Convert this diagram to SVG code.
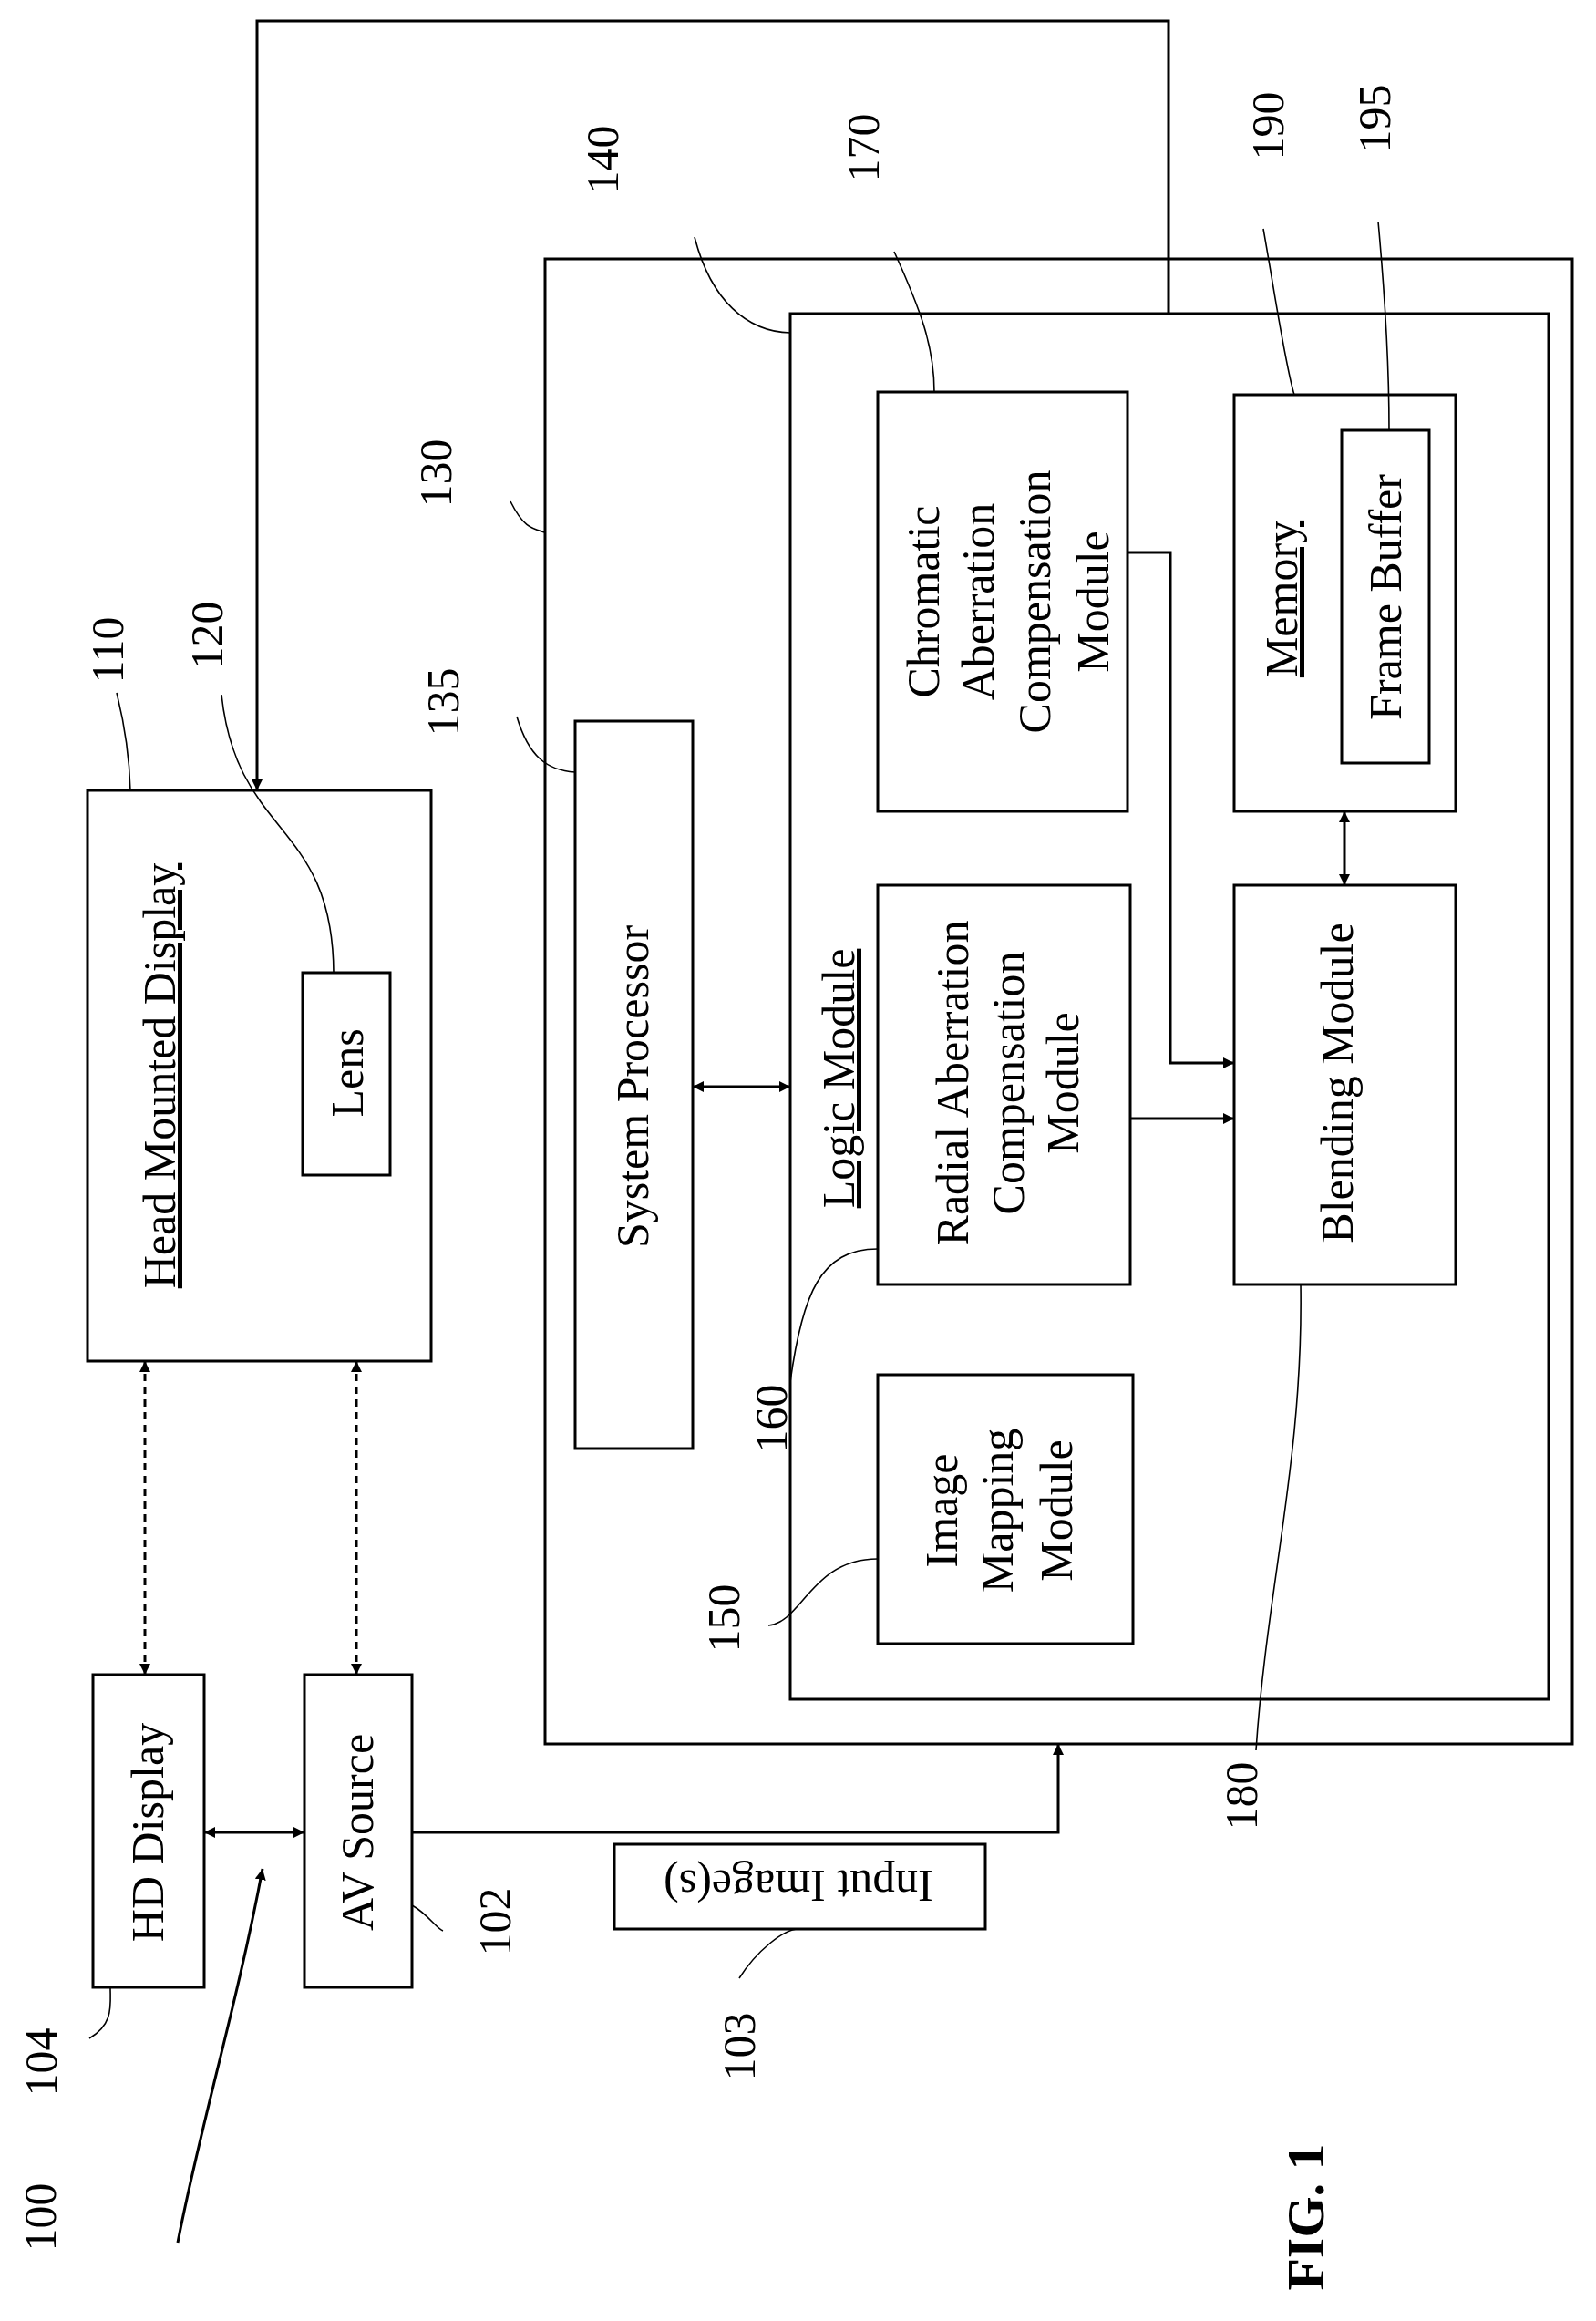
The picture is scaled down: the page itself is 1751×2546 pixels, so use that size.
<svg xmlns="http://www.w3.org/2000/svg" width="1751" height="2546" viewBox="0 0 1751 2546">
<defs>
<marker id="a" viewBox="0 0 10 10" refX="10" refY="5" markerWidth="12" markerHeight="12" markerUnits="userSpaceOnUse" orient="auto-start-reverse"><path d="M0,0 L10,5 L0,10 z" fill="#000"/></marker>
</defs>
<style>
rect{fill:#fff;stroke:#000;stroke-width:3}
text{font-family:"Liberation Serif",serif;font-size:50px;fill:#000;text-anchor:middle}
.c{fill:none;stroke:#000;stroke-width:3}
.l{fill:none;stroke:#000;stroke-width:1.6}
.u{text-decoration:underline}
</style>
<rect width="1751" height="2546" style="stroke:none"/>
<g id="n130"><rect x="598" y="284" width="1127" height="1629"/></g>
<g id="n140"><rect x="867" y="344" width="832" height="1520"/>
<text class="u" transform="translate(937,1183) rotate(-90)">Logic Module</text></g>
<g id="n170"><rect x="963" y="430" width="274" height="460"/>
<text transform="translate(1102,660) rotate(-90)"><tspan x="0" y="-72">Chromatic</tspan><tspan x="0" y="-12">Aberration</tspan><tspan x="0" y="50">Compensation</tspan><tspan x="0" y="114">Module</tspan></text></g>
<g id="n190"><rect x="1354" y="433" width="243" height="457"/>
<text class="u" transform="translate(1423,657) rotate(-90)">Memory</text></g>
<g id="n195"><rect x="1472" y="472" width="96" height="365"/>
<text transform="translate(1537,655) rotate(-90)">Frame Buffer</text></g>
<g id="n160"><rect x="963" y="971" width="277" height="438"/>
<text transform="translate(1102,1188) rotate(-90)"><tspan x="0" y="-40">Radial Aberration</tspan><tspan x="0" y="21">Compensation</tspan><tspan x="0" y="81">Module</tspan></text></g>
<g id="n180"><rect x="1354" y="971" width="243" height="438"/>
<text transform="translate(1467,1188) rotate(-90)"><tspan y="17">Blending Module</tspan></text></g>
<g id="n150"><rect x="963" y="1508" width="280" height="295"/>
<text transform="translate(1102,1657) rotate(-90)"><tspan x="0" y="-52">Image</tspan><tspan x="0" y="9">Mapping</tspan><tspan x="0" y="74">Module</tspan></text></g>
<g id="n135"><rect x="631" y="791" width="129" height="798"/>
<text transform="translate(694,1192) rotate(-90)"><tspan y="17">System Processor</tspan></text></g>
<g id="n110"><rect x="96" y="867" width="377" height="626"/>
<text class="u" transform="translate(175,1180) rotate(-90)"><tspan y="17">Head Mounted Display</tspan></text></g>
<g id="n120"><rect x="332" y="1067" width="96" height="222"/>
<text transform="translate(381,1177) rotate(-90)"><tspan y="17">Lens</tspan></text></g>
<g id="n104"><rect x="102" y="1837" width="122" height="343"/>
<text transform="translate(162,2010) rotate(-90)"><tspan y="17">HD Display</tspan></text></g>
<g id="n102"><rect x="334" y="1837" width="118" height="343"/>
<text transform="translate(392,2010) rotate(-90)"><tspan y="17">AV Source</tspan></text></g>
<g id="n103"><rect x="674" y="2023" width="407" height="93"/>
<text transform="translate(876,2069) rotate(180)"><tspan y="17">Input Image(s)</tspan></text></g>
<g id="connectors">
<path class="c" d="M1282,344 V23 H282 V867" marker-end="url(#a)"/>
<path class="c" d="M159,1493 V1837" stroke-dasharray="8,6" marker-start="url(#a)" marker-end="url(#a)"/>
<path class="c" d="M391,1493 V1837" stroke-dasharray="8,6" marker-start="url(#a)" marker-end="url(#a)"/>
<path class="c" d="M224,2010 H334" marker-start="url(#a)" marker-end="url(#a)"/>
<path class="c" d="M452,2010 H1161 V1913" marker-end="url(#a)"/>
<path class="c" d="M760,1192 H867" marker-start="url(#a)" marker-end="url(#a)"/>
<path class="c" d="M1237,606 H1284 V1166 H1354" marker-end="url(#a)"/>
<path class="c" d="M1240,1227 H1354" marker-end="url(#a)"/>
<path class="c" d="M1475,890 V971" marker-start="url(#a)" marker-end="url(#a)"/>
<path class="c" d="M195,2460 C220,2330 260,2200 288,2050" marker-end="url(#a)"/>
<path class="l" d="M128,760 C138,800 142,830 143,867"/>
<path class="l" d="M243,762 C260,920 365,900 366,1067"/>
<path class="l" d="M560,550 C575,580 585,580 598,584"/>
<path class="l" d="M567,786 C580,830 600,845 631,847"/>
<path class="l" d="M762,260 C780,330 820,364 867,365"/>
<path class="l" d="M981,276 C1010,340 1025,380 1025,430"/>
<path class="l" d="M1386,251 C1400,330 1410,400 1420,433"/>
<path class="l" d="M1512,243 C1520,330 1524,400 1524,472"/>
<path class="l" d="M867,1516 C880,1420 900,1370 963,1370"/>
<path class="l" d="M843,1783 C880,1780 890,1710 963,1710"/>
<path class="l" d="M1427,1409 C1430,1600 1390,1740 1378,1920"/>
<path class="l" d="M98,2236 C125,2220 121,2200 121,2180"/>
<path class="l" d="M452,2090 C470,2100 478,2115 486,2118"/>
<path class="l" d="M811,2170 C830,2140 860,2116 876,2116"/>
</g>
<g id="labels">
<text transform="translate(118,713) rotate(-90)"><tspan y="17">110</tspan></text>
<text transform="translate(227,697) rotate(-90)"><tspan y="17">120</tspan></text>
<text transform="translate(478,519) rotate(-90)"><tspan y="17">130</tspan></text>
<text transform="translate(486,770) rotate(-90)"><tspan y="17">135</tspan></text>
<text transform="translate(661,175) rotate(-90)"><tspan y="17">140</tspan></text>
<text transform="translate(947,162) rotate(-90)"><tspan y="17">170</tspan></text>
<text transform="translate(1391,138) rotate(-90)"><tspan y="17">190</tspan></text>
<text transform="translate(1508,130) rotate(-90)"><tspan y="17">195</tspan></text>
<text transform="translate(846,1556) rotate(-90)"><tspan y="17">160</tspan></text>
<text transform="translate(794,1775) rotate(-90)"><tspan y="17">150</tspan></text>
<text transform="translate(1362,1970) rotate(-90)"><tspan y="17">180</tspan></text>
<text transform="translate(45,2262) rotate(-90)"><tspan y="17">104</tspan></text>
<text transform="translate(543,2108) rotate(-90)"><tspan y="17">102</tspan></text>
<text transform="translate(811,2245) rotate(-90)"><tspan y="17">103</tspan></text>
<text transform="translate(44,2432) rotate(-90)"><tspan y="17">100</tspan></text>
<text transform="translate(1432,2432) rotate(-90)" style="font-weight:bold;font-size:58px"><tspan y="20">FIG. 1</tspan></text>
</g>
</svg>
